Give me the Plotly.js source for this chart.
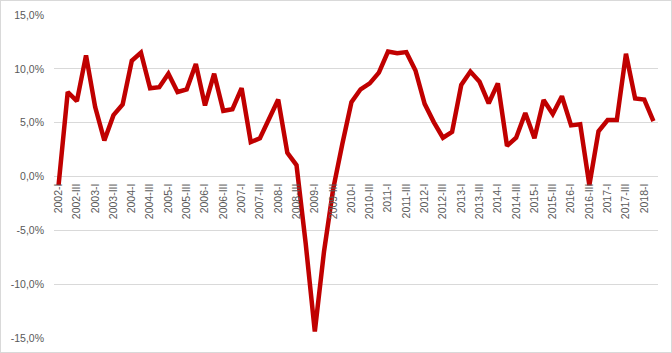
<!DOCTYPE html>
<html>
<head>
<meta charset="utf-8">
<script src="https://cdn.plot.ly/plotly-3.0.1.min.js"></script>
<style>
  html, body { margin: 0; padding: 0; background: #ffffff; }
  #frame { width: 672px; height: 353px; box-sizing: border-box; border: 1px solid #d9d9d9; background: #fff; }
  #chart { width: 670px; height: 351px; }
</style>
</head>
<body>
<div id="frame"><div id="chart"></div></div>
<script>
// Quarterly growth rate (%), 2002-I .. 2018-II
const years = [2002, 2003, 2004, 2005, 2006, 2007, 2008, 2009, 2010, 2011, 2012, 2013, 2014, 2015, 2016, 2017, 2018];
const quarters = ["I", "II", "III", "IV"];
const values = [
  -0.8, 7.85, 7.0, 11.25, 6.45, 3.35, 5.7, 6.7, 10.75, 11.5,
  8.2, 8.3, 9.55, 7.85, 8.1, 10.45, 6.6, 9.55, 6.1, 6.25,
  8.2, 3.2, 3.55, 5.35, 7.15, 2.2, 1.05, -6.2, -14.4, -7.0,
  -1.2, 3.0, 6.9, 8.1, 8.65, 9.65, 11.6, 11.45, 11.55, 9.85,
  6.75, 5.05, 3.6, 4.15, 8.5, 9.75, 8.8, 6.8, 8.65, 2.85,
  3.6, 5.9, 3.55, 7.1, 5.8, 7.45, 4.75, 4.85, -0.8, 4.2,
  5.25, 5.25, 11.4, 7.25, 7.15, 5.15
];
const yTicks = [-15, -10, -5, 0, 5, 10, 15];
const yTickLabels = ["-15,0%", "-10,0%", "-5,0%", "0,0%", "5,0%", "10,0%", "15,0%"];

const categories = [];
for (const y of years) for (const q of quarters) categories.push(y + "-" + q);
categories.length = values.length;

const tickCats = categories.filter((c, i) => i % 2 === 0);

const font = { family: "Liberation Sans, Arial, sans-serif", size: 10.5, color: "#595959" };

Plotly.newPlot("chart", [{
  type: "scatter",
  mode: "lines",
  x: categories,
  y: values,
  line: { color: "#C00000", width: 4.5, shape: "linear" },
  hoverinfo: "skip",
  showlegend: false
}], {
  width: 670,
  height: 351,
  margin: { l: 53, r: 13, t: 14, b: 14, pad: 0 },
  paper_bgcolor: "#ffffff",
  plot_bgcolor: "#ffffff",
  font: font,
  xaxis: {
    type: "category",
    categoryorder: "array",
    categoryarray: categories,
    tickmode: "array",
    tickvals: tickCats,
    ticktext: tickCats,
    tickangle: -90,
    tickfont: font,
    showgrid: false,
    zeroline: false,
    showline: false,
    ticks: "",
    anchor: "free",
    position: 0.5,
    ticklabelstandoff: 4,
    range: [-0.5, values.length - 0.5],
    fixedrange: true
  },
  yaxis: {
    range: [-15, 15],
    tickmode: "array",
    tickvals: yTicks,
    ticktext: yTickLabels,
    tickfont: font,
    showgrid: true,
    gridcolor: "#d9d9d9",
    gridwidth: 1,
    zeroline: false,
    showline: false,
    ticks: "",
    ticklabelstandoff: 9,
    fixedrange: true
  }
}, { displayModeBar: false, staticPlot: true });
</script>
</body>
</html>
